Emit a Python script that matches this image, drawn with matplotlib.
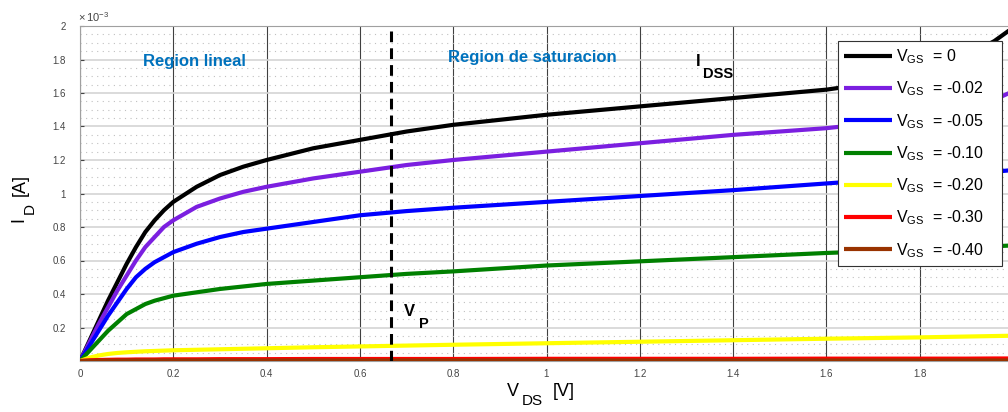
import numpy as np
import matplotlib
matplotlib.use('Agg')
import matplotlib.pyplot as plt
from matplotlib.ticker import MultipleLocator

plt.rcParams['font.family'] = ['Liberation Sans', 'DejaVu Sans']
plt.rcParams['mathtext.fontset'] = 'custom'
plt.rcParams['mathtext.rm'] = 'Liberation Sans'

W, H = 1008, 412

# V_DS sample points [V]
vds = [0, 0.02, 0.04, 0.06, 0.08, 0.1, 0.12, 0.14, 0.16, 0.18, 0.2, 0.25, 0.3, 0.35,
       0.4, 0.5, 0.6, 0.7, 0.8, 1.0, 1.2, 1.4, 1.6, 1.7, 1.8, 1.9, 1.96, 2.0]

# I_D, in units of 1e-3 A
id_0 = [0, 0.12, 0.24, 0.36, 0.47, 0.58, 0.68, 0.77, 0.84, 0.90, 0.95, 1.04, 1.11, 1.16,
        1.20, 1.27, 1.32, 1.37, 1.41, 1.47, 1.52, 1.57, 1.62, 1.66, 1.72, 1.82, 1.91, 1.99]
id_002 = [0, 0.11, 0.22, 0.32, 0.42, 0.51, 0.60, 0.68, 0.74, 0.80, 0.84, 0.92, 0.97, 1.01,
          1.04, 1.09, 1.13, 1.17, 1.20, 1.25, 1.30, 1.35, 1.39, 1.42, 1.45, 1.50, 1.56, 1.61]
id_005 = [0, 0.09, 0.18, 0.27, 0.35, 0.43, 0.50, 0.55, 0.59, 0.62, 0.65, 0.70, 0.74, 0.77,
          0.79, 0.83, 0.87, 0.895, 0.915, 0.95, 0.985, 1.02, 1.06, 1.08, 1.10, 1.12, 1.13, 1.14]
id_010 = [0, 0.06, 0.12, 0.18, 0.23, 0.28, 0.31, 0.34, 0.36, 0.375, 0.39, 0.41, 0.43, 0.445,
          0.46, 0.48, 0.50, 0.52, 0.535, 0.57, 0.595, 0.62, 0.645, 0.655, 0.665, 0.675, 0.685, 0.69]
id_020 = [0, 0.02, 0.033, 0.042, 0.048, 0.052, 0.055, 0.058, 0.06, 0.062, 0.064, 0.067, 0.07, 0.073,
          0.076, 0.082, 0.087, 0.092, 0.097, 0.106, 0.115, 0.124, 0.133, 0.137, 0.141, 0.146, 0.149, 0.151]
id_030 = [0, 0.004, 0.006, 0.007, 0.008, 0.008, 0.009, 0.009, 0.009, 0.01, 0.01, 0.01, 0.011, 0.011,
          0.011, 0.012, 0.012, 0.012, 0.012, 0.013, 0.013, 0.013, 0.014, 0.014, 0.014, 0.014, 0.015, 0.015]
id_040 = [0, 0.001, 0.002, 0.002, 0.002, 0.003, 0.003, 0.003, 0.003, 0.003, 0.003, 0.003, 0.003, 0.003,
          0.003, 0.003, 0.003, 0.003, 0.003, 0.003, 0.003, 0.003, 0.003, 0.003, 0.003, 0.003, 0.003, 0.003]

series = [id_0, id_002, id_005, id_010, id_020, id_030, id_040]
vgs_labels = ['0', '-0.02', '-0.05', '-0.10', '-0.20', '-0.30', '-0.40']
colors = ['black', '#7b1fe0', '#0000ff', '#008000', '#ffff00', '#ff0000', '#993300']

vp = 0.667


def px(x, y):
    # pixel position (from top-left) -> figure fraction
    return x / W, 1 - y / H


fig = plt.figure(figsize=(W / 100, H / 100), dpi=100)
ax = fig.add_axes([80 / W, 51 / H, 933 / W, 335 / H])

for ys, c, lab in zip(series, colors, vgs_labels):
    ax.plot(vds, np.array(ys) * 1e-3, color=c, lw=3, solid_capstyle='butt',
            label=r'V$_{\mathrm{GS}}$  = ' + lab, zorder=3)

ax.axvline(vp, color='black', ls=(0, (3.5, 2)), lw=2.2, zorder=4)

ax.set_xlim(0, 2)
ax.set_ylim(0, 2e-3)
ax.yaxis.set_minor_locator(MultipleLocator(0.05e-3))

xt = np.arange(0, 2.01, 0.2)
ax.set_xticks(xt)
ax.set_xticklabels(['%g' % round(v, 1) for v in xt])
yt = np.arange(0.2, 2.01, 0.2)
ax.set_yticks(yt * 1e-3)
ax.set_yticklabels(['%g' % round(v, 1) for v in yt])

ax.grid(True, axis='x', which='major', color='black', lw=0.8, alpha=0.75)
ax.grid(True, axis='y', which='major', color='#d4d4d4', lw=1.2)
ax.grid(True, axis='y', which='minor', color='#c0c0c0', lw=0.8, ls=(0, (1, 4)))
ax.set_axisbelow(True)

ax.tick_params(axis='both', which='both', direction='in', labelsize=7,
               colors='#444444', length=3)
ax.tick_params(axis='y', which='minor', length=0)
ax.tick_params(axis='y', pad=10)
ax.tick_params(axis='x', pad=6)
for sp in ax.spines.values():
    sp.set_color('#a0a0a0')

ax.text(-0.002, 1.007, r'$\times\,10^{-3}$', transform=ax.transAxes, fontsize=8,
        color='#444444', va='bottom', ha='left')

# axis labels, drawn in pieces like the reference (subscript well below)
fig.text(*px(507, 391), 'V', fontsize=13, ha='left', va='center')
fig.text(*px(522, 401), 'DS', fontsize=11, ha='left', va='center')
fig.text(*px(553, 391), '[V]', fontsize=13, ha='left', va='center')
fig.text(*px(19, 220), 'I', fontsize=13, ha='center', va='center', rotation=90)
fig.text(*px(30, 209), 'D', fontsize=11, ha='center', va='center', rotation=90)
fig.text(*px(20, 185), '[A]', fontsize=13, ha='center', va='center', rotation=90)

ax.text(0.245, 1.79e-3, 'Region lineal', color='#0072bd', fontsize=12,
        fontweight='bold', ha='center', va='center')
ax.text(0.97, 1.81e-3, 'Region de saturacion', color='#0072bd', fontsize=12,
        fontweight='bold', ha='center', va='center')

fig.text(*px(696, 61), 'I', fontsize=12, fontweight='bold', ha='left', va='center')
fig.text(*px(703, 74), 'DSS', fontsize=10.5, fontweight='bold', ha='left', va='center')
fig.text(*px(404, 311), 'V', fontsize=12, fontweight='bold', ha='left', va='center')
fig.text(*px(419, 324), 'P', fontsize=10.5, fontweight='bold', ha='left', va='center')

x0, y0 = px(838, 268)
leg = ax.legend(loc='upper left', mode='expand',
                bbox_to_anchor=(x0, y0, 164 / W, 227 / H),
                bbox_transform=fig.transFigure, fontsize=11.5, handlelength=3.0,
                handletextpad=0.25, labelspacing=0.85, fancybox=False, framealpha=1,
                edgecolor='#333333', borderpad=0.4, borderaxespad=0)
leg.get_frame().set_linewidth(0.8)

plt.savefig('out.png', dpi=100)
